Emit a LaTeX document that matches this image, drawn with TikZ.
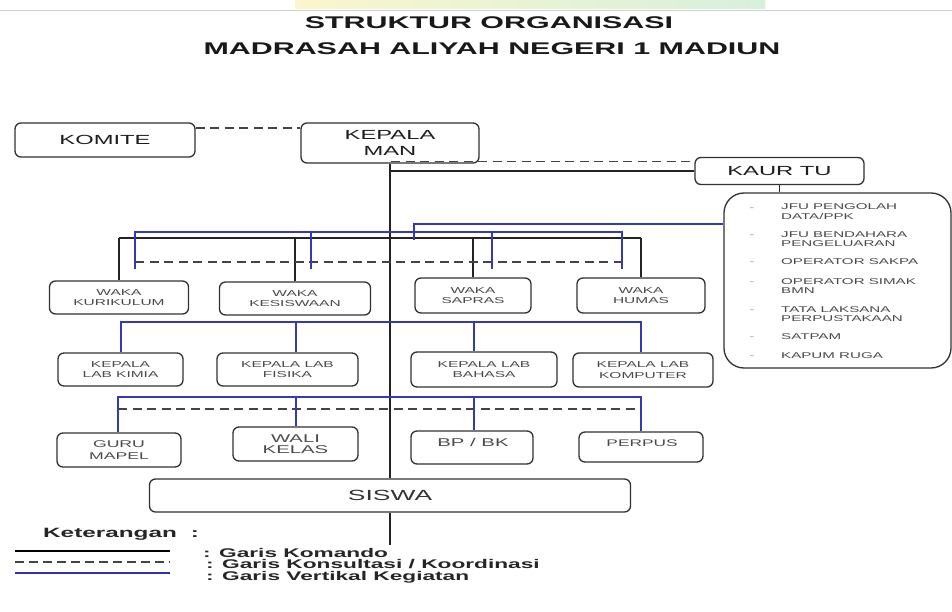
\documentclass[tikz,border=0pt]{standalone}
\usepackage{fontspec}
\setmainfont[FakeStretch=1.8]{Liberation Sans}
\definecolor{bl}{RGB}{55,55,185}
\definecolor{ln}{RGB}{35,35,35}
\definecolor{bx}{RGB}{50,50,50}
\definecolor{tx}{RGB}{75,75,75}
\definecolor{dk}{RGB}{30,30,30}
\tikzset{
  box/.style={draw=bx, line width=1.3pt, rounded corners=6pt, inner sep=0pt, align=center, text=tx},
  fsm/.style={font=\fontsize{8.6}{10.3}\selectfont},
  fbig/.style={font=\fontsize{13.2}{15.4}\selectfont, text=dk},
  cmd/.style={draw=ln, line width=1.4pt},
  kons/.style={draw=ln!85, line width=1.3pt, dash pattern=on 9pt off 5.5pt},
  keg/.style={draw=bl, line width=1.4pt},
  jitem/.style={anchor=base west, inner sep=0pt, font=\fontsize{8.4}{10}\selectfont, text=tx},
  jdash/.style={anchor=base, inner sep=0pt, font=\fontsize{8.4}{10}\selectfont, text=black!40},
  ttl/.style={anchor=base, inner sep=0pt, font=\bfseries\fontsize{16.9}{20}\selectfont, text=black!90},
  leg/.style={anchor=base west, inner sep=0pt, font=\bfseries\fontsize{12.6}{14}\selectfont, text=black!85},
}
\begin{document}
\begin{tikzpicture}[x=1pt,y=-1pt]
\useasboundingbox (0,0) rectangle (952,612);
\fill[white] (0,0) rectangle (952,612);
\shade[left color={rgb,255:red,250;green,246;blue,205}, right color={rgb,255:red,215;green,240;blue,220}] (295,0) rectangle (765,9);
\draw[black!18, line width=0.8pt] (0,10) -- (952,10);

% titles
\node[ttl] (t1) at (489,28.5) {STRUKTUR ORGANISASI};
\node[ttl] (t2) at (492,54.5) {MADRASAH ALIYAH NEGERI 1 MADIUN};

% top boxes
\node[box, fbig, minimum width=180, minimum height=34] (komite) at (105,140) {KOMITE};
\node[box, fbig, minimum width=178, minimum height=40] (kepala) at (390,143) {KEPALA\\MAN};
\node[box, fbig, minimum width=169, minimum height=27] (kaur) at (779.5,171) {KAUR TU};
\node[box, rounded corners=20pt, minimum width=227, minimum height=175] (jfu) at (837.5,280.5) {};

% JFU items
\node[jdash] (d1) at (752,211) {-};
\node[jitem] (j1a) at (781,210) {JFU PENGOLAH};
\node[jitem] (j1b) at (781,220) {DATA/PPK};
\node[jdash] (d2) at (752,238) {-};
\node[jitem] (j2a) at (781,237) {JFU BENDAHARA};
\node[jitem] (j2b) at (781,247) {PENGELUARAN};
\node[jdash] (d3) at (752,265) {-};
\node[jitem] (j3) at (781,265) {OPERATOR SAKPA};
\node[jdash] (d4) at (752,284) {-};
\node[jitem] (j4a) at (781,284) {OPERATOR SIMAK};
\node[jitem] (j4b) at (781,293) {BMN};
\node[jdash] (d5) at (752,312) {-};
\node[jitem] (j5a) at (781,312) {TATA LAKSANA};
\node[jitem] (j5b) at (781,321) {PERPUSTAKAAN};
\node[jdash] (d6) at (752,339) {-};
\node[jitem] (j6) at (781,339) {SATPAM};
\node[jdash] (d7) at (752,358) {-};
\node[jitem] (j7) at (781,358) {KAPUM RUGA};

% waka row
\node[box, fsm, minimum width=139, minimum height=33] (wk1) at (119,297.5) {WAKA\\KURIKULUM};
\node[box, fsm, minimum width=151, minimum height=33] (wk2) at (295,298.5) {WAKA\\KESISWAAN};
\node[box, fsm, minimum width=116, minimum height=35] (wk3) at (473,295.5) {WAKA\\SAPRAS};
\node[box, fsm, minimum width=128, minimum height=35] (wk4) at (641,295.5) {WAKA\\HUMAS};

% kepala lab row
\node[box, fsm, minimum width=125, minimum height=33] (kl1) at (120.5,369.5) {KEPALA\\LAB KIMIA};
\node[box, fsm, minimum width=141, minimum height=33] (kl2) at (287.5,369.5) {KEPALA LAB\\FISIKA};
\node[box, fsm, minimum width=146, minimum height=35] (kl3) at (484,369.5) {KEPALA LAB\\BAHASA};
\node[box, fsm, minimum width=140, minimum height=34] (kl4) at (643,370) {KEPALA LAB\\KOMPUTER};

% bottom row
\node[box, font=\fontsize{9.8}{11.2}\selectfont, minimum width=124, minimum height=34] (guru) at (119,450) {GURU\\MAPEL};
\node[box, font=\fontsize{11.3}{11.6}\selectfont, minimum width=125, minimum height=34] (wali) at (295.5,444) {WALI\\KELAS};
\node[box, minimum width=122, minimum height=33] (bp) at (472,447.5) {};
\node[inner sep=0pt, text=tx, font=\fontsize{11.3}{13}\selectfont] (bpt) at (473,442) {BP / BK};
\node[box, minimum width=124, minimum height=30] (perpus) at (641,447) {};
\node[inner sep=0pt, text=tx, font=\fontsize{9.6}{12}\selectfont] (perpust) at (642,443.5) {PERPUS};
\node[box, font=\fontsize{14.7}{17}\selectfont, text=black!80, minimum width=481, minimum height=33] (siswa) at (390,495.5) {SISWA};

% ---- garis komando
\coordinate (vbot) at (390,545);
\draw[cmd] (kepala.south) -- (kepala.south |- siswa.north);
\draw[cmd] (siswa.south) -- (vbot);
\draw[cmd] (kepala.south |- kaur.west) -- (kaur.west);
\draw[cmd] (kaur.south) -- (kaur.south |- jfu.north);
\coordinate (wb) at (0,238);
\draw[cmd] (wk1.north |- wb) -- (wk4.north |- wb);
\foreach \n in {wk1,wk2,wk3,wk4} \draw[cmd] (\n.north) -- (\n.north |- wb);

% ---- garis konsultasi
\coordinate (dkl) at (300,128);
\draw[kons] (komite.east |- dkl) -- (kepala.west |- dkl);
\coordinate (dkk) at (391,161.5);
\draw[kons] (dkk) -- (dkk -| kaur.west);
\coordinate (dw1) at (135,262);
\coordinate (dw4) at (622,262);
\draw[kons] (dw1) -- (dw4);
\coordinate (dg1) at (118,409);
\coordinate (dg4) at (641,409);
\draw[kons] (dg1) -- (dg4);

% ---- garis vertikal kegiatan
\coordinate (bjt) at (414,224);
\coordinate (bjb) at (414,240);
\draw[keg] (jfu.west |- bjt) -- (bjt) -- (bjb);
\coordinate (bt1) at (135,232);
\coordinate (bt4) at (622,232);
\coordinate (bk1) at (135,269);
\coordinate (bk2) at (311,269);
\coordinate (bk3) at (492,269);
\coordinate (bk4) at (622,269);
\draw[keg] (bk1) -- (bt1) -- (bt4) -- (bk4);
\draw[keg] (bk2) -- (bk2 |- bt1);
\draw[keg] (bk3) -- (bk3 |- bt1);

\coordinate (k1) at (121,322);
\coordinate (k2) at (296,322);
\coordinate (k3) at (474,322);
\coordinate (k4) at (641,322);
\draw[keg] (k1 |- kl1.north) -- (k1) -- (k4) -- (k4 |- kl4.north);
\draw[keg] (k2) -- (k2 |- kl2.north);
\draw[keg] (k3) -- (k3 |- kl3.north);

\coordinate (g1) at (118,397);
\coordinate (g2) at (296,397);
\coordinate (g3) at (474,397);
\coordinate (g4) at (641,397);
\draw[keg] (g1 |- guru.north) -- (g1) -- (g4) -- (g4 |- perpus.north);
\draw[keg] (g2) -- (g2 |- wali.north);
\draw[keg] (g3) -- (g3 |- bp.north);

% ---- legend
\node[leg, font=\bfseries\fontsize{13.5}{16}\selectfont] (ket) at (43,537) {Keterangan\hspace{14pt}:};
\coordinate (la1) at (15,551); \coordinate (la2) at (170,551);
\coordinate (lb1) at (15,562); \coordinate (lb2) at (170,562);
\coordinate (lc1) at (15,573); \coordinate (lc2) at (170,573);
\draw[draw=black, line width=2.2pt] (la1) -- (la2);
\draw[draw=ln!85, line width=1.4pt, dash pattern=on 9pt off 5pt] (lb1) -- (lb2);
\draw[draw=bl!90!black, line width=2.2pt] (lc1) -- (lc2);
\node[leg] (lt1) at (203,557) {: Garis Komando};
\node[leg] (lt2) at (206,568.5) {: Garis Konsultasi / Koordinasi};
\node[leg] (lt3) at (206,580) {: Garis Vertikal Kegiatan};
\end{tikzpicture}
\end{document}
